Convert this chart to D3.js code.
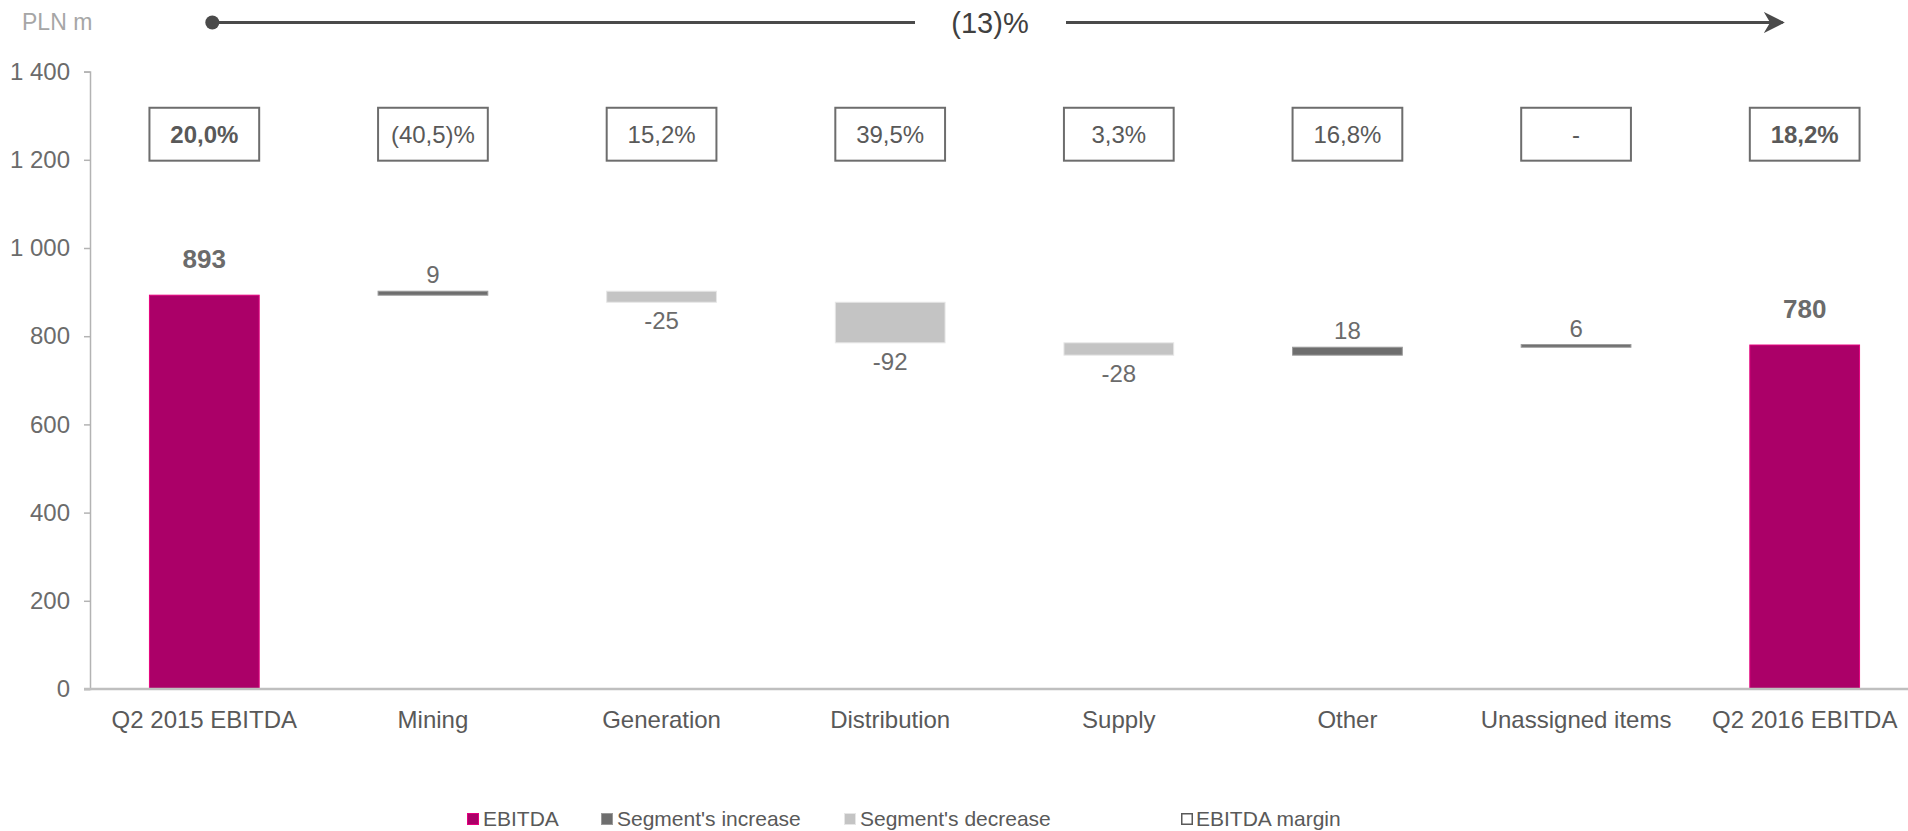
<!DOCTYPE html>
<html>
<head>
<meta charset="utf-8">
<script src="https://cdnjs.cloudflare.com/ajax/libs/d3/7.8.5/d3.min.js"></script>
<style>
  html, body { margin: 0; padding: 0; background: #ffffff; }
  svg { display: block; font-family: "Liberation Sans", Arial, sans-serif; }
</style>
</head>
<body>
<svg id="chart" width="1908" height="831"></svg>
<script>
// EBITDA bridge, Q2 2015 -> Q2 2016 (PLN m)
const categories = ["Q2 2015 EBITDA", "Mining", "Generation", "Distribution", "Supply", "Other", "Unassigned items", "Q2 2016 EBITDA"];
const values     = [893, 9, -25, -92, -28, 18, 6, 780];
const kinds      = ["total", "delta", "delta", "delta", "delta", "delta", "delta", "total"];
const margins    = ["20,0%", "(40,5)%", "15,2%", "39,5%", "3,3%", "16,8%", "-", "18,2%"];
const marginBold = [true, false, false, false, false, false, false, true];
const yTicks     = [0, 200, 400, 600, 800, 1000, 1200, 1400];
const changeLabel = "(13)%";
const unitLabel   = "PLN m";
const legendItems = [
  { label: "EBITDA", key: "total" },
  { label: "Segment's increase", key: "up" },
  { label: "Segment's decrease", key: "down" },
  { label: "EBITDA margin", key: "margin" }
];

const colors = {
  total: { fill: "#ab0068", stroke: "#e5007e" },
  up:    { fill: "#6e6e6e", stroke: "#9a9a9a" },
  down:  { fill: "#c4c4c4", stroke: "#e6e6e6" },
  margin:{ fill: "#ffffff", stroke: "#6d6d6d" }
};
const textGray = "#6b6b6b";

const svg = d3.select("#chart");

const x = d3.scaleBand().domain(categories).range([90, 1919]).paddingInner(0.52).paddingOuter(0.26);
const y = d3.scaleLinear().domain([0, 1400]).range([689, 71.6]);

// running waterfall segments
let running = 0;
const bars = categories.map((c, i) => {
  const v = values[i];
  let lo, hi, key;
  if (kinds[i] === "total") {
    lo = 0; hi = v; key = "total"; running = v;
  } else {
    const start = running, end = running + v;
    lo = Math.min(start, end); hi = Math.max(start, end);
    key = v >= 0 ? "up" : "down";
    running = end;
  }
  return { cat: c, v, lo, hi, key, kind: kinds[i], i };
});

// y axis
const locale = d3.formatLocale({ decimal: ",", thousands: " ", grouping: [3], currency: ["", ""] });
const fmt = locale.format(",d");
const yAxis = d3.axisLeft(y).tickValues(yTicks).tickFormat(fmt).tickSize(6).tickPadding(14);
const gy = svg.append("g").attr("transform", "translate(90,0)").call(yAxis);
gy.select(".domain").attr("stroke", "#b3b3b3").attr("stroke-width", 1.5);
gy.selectAll(".tick line").attr("stroke", "#b3b3b3").attr("stroke-width", 1.5);
gy.selectAll(".tick text").attr("fill", textGray).attr("font-size", 24)
  .attr("font-family", "'Liberation Sans', Arial, sans-serif");

// bars
svg.append("g").selectAll("rect").data(bars).join("rect")
  .attr("x", d => x(d.cat))
  .attr("width", x.bandwidth())
  .attr("y", d => y(d.hi))
  .attr("height", d => Math.max(1, y(d.lo) - y(d.hi)))
  .attr("fill", d => colors[d.key].fill)
  .attr("stroke", d => colors[d.key].stroke)
  .attr("stroke-width", 1);

// x axis baseline
svg.append("line")
  .attr("x1", 84).attr("x2", 1908)
  .attr("y1", y(0)).attr("y2", y(0))
  .attr("stroke", "#bfbfbf").attr("stroke-width", 2.5);

// category labels
svg.append("g").selectAll("text").data(categories).join("text")
  .attr("x", d => x(d) + x.bandwidth() / 2)
  .attr("y", 728)
  .attr("text-anchor", "middle")
  .attr("font-size", 24)
  .attr("fill", "#595959")
  .text(d => d);

// value labels
svg.append("g").selectAll("text").data(bars).join("text")
  .attr("x", d => x(d.cat) + x.bandwidth() / 2)
  .attr("y", d => {
    if (d.kind === "total") return y(d.hi) - 27;
    if (d.v >= 0) return y(d.hi) - 8;
    return y(d.lo) + 27;
  })
  .attr("text-anchor", "middle")
  .attr("font-size", d => d.kind === "total" ? 26 : 24)
  .attr("font-weight", d => d.kind === "total" ? "bold" : "normal")
  .attr("fill", textGray)
  .text(d => d.v);

// margin boxes
const boxTop = 1318, boxBottom = 1198;
const mg = svg.append("g").selectAll("g").data(categories).join("g");
mg.append("rect")
  .attr("x", d => x(d))
  .attr("width", x.bandwidth())
  .attr("y", y(boxTop))
  .attr("height", y(boxBottom) - y(boxTop))
  .attr("fill", colors.margin.fill)
  .attr("stroke", colors.margin.stroke)
  .attr("stroke-width", 2);
mg.append("text")
  .attr("x", d => x(d) + x.bandwidth() / 2)
  .attr("y", (y(boxTop) + y(boxBottom)) / 2 + 8.5)
  .attr("text-anchor", "middle")
  .attr("font-size", 24)
  .attr("font-weight", (d, i) => marginBold[i] ? "bold" : "normal")
  .attr("fill", "#595959")
  .text((d, i) => margins[i]);

// unit label
svg.append("text")
  .attr("x", 22).attr("y", 30)
  .attr("font-size", 23)
  .attr("fill", "#a6a6a6")
  .text(unitLabel);

// change arrow across the top
const arrowY = 22.5;
const ax0 = x(categories[0]) + x.bandwidth() / 2 + 8;
const ax1 = x(categories[categories.length - 1]) + x.bandwidth() / 2 - 22;
const textX = 990;
svg.append("defs").append("marker")
  .attr("id", "arrowhead")
  .attr("viewBox", "0 0 10 10")
  .attr("refX", 9).attr("refY", 5)
  .attr("markerWidth", 7).attr("markerHeight", 7)
  .attr("markerUnits", "strokeWidth")
  .attr("orient", "auto")
  .append("path").attr("d", "M0,0 L10,5 L0,10 L3,5 Z").attr("fill", "#4a4a4a");
svg.append("circle").attr("cx", ax0).attr("cy", arrowY).attr("r", 7).attr("fill", "#4a4a4a");
svg.append("line").attr("x1", ax0).attr("x2", textX - 75)
  .attr("y1", arrowY).attr("y2", arrowY)
  .attr("stroke", "#4a4a4a").attr("stroke-width", 3);
svg.append("line").attr("x1", textX + 76).attr("x2", ax1)
  .attr("y1", arrowY).attr("y2", arrowY)
  .attr("stroke", "#4a4a4a").attr("stroke-width", 3)
  .attr("marker-end", "url(#arrowhead)");
svg.append("text").attr("x", textX).attr("y", arrowY + 10)
  .attr("text-anchor", "middle").attr("font-size", 29)
  .attr("fill", "#404040").text(changeLabel);

// legend
const legendX = [467, 601, 844, 1181];
const lg = svg.append("g").selectAll("g").data(legendItems).join("g")
  .attr("transform", (d, i) => `translate(${legendX[i]},819)`);
lg.append("rect")
  .attr("x", d => d.key === "margin" ? 0.75 : 0.5).attr("y", d => d.key === "margin" ? -5.25 : -5.5)
  .attr("width", d => d.key === "margin" ? 10.5 : 11).attr("height", d => d.key === "margin" ? 10.5 : 11)
  .attr("fill", d => colors[d.key].fill)
  .attr("stroke", d => d.key === "margin" ? "#595959" : colors[d.key].stroke)
  .attr("stroke-width", d => d.key === "margin" ? 1.5 : 1);
lg.append("text")
  .attr("x", d => d.key === "margin" ? 15 : 16).attr("y", 7)
  .attr("font-size", 21)
  .attr("fill", "#595959")
  .text(d => d.label);
</script>
</body>
</html>
